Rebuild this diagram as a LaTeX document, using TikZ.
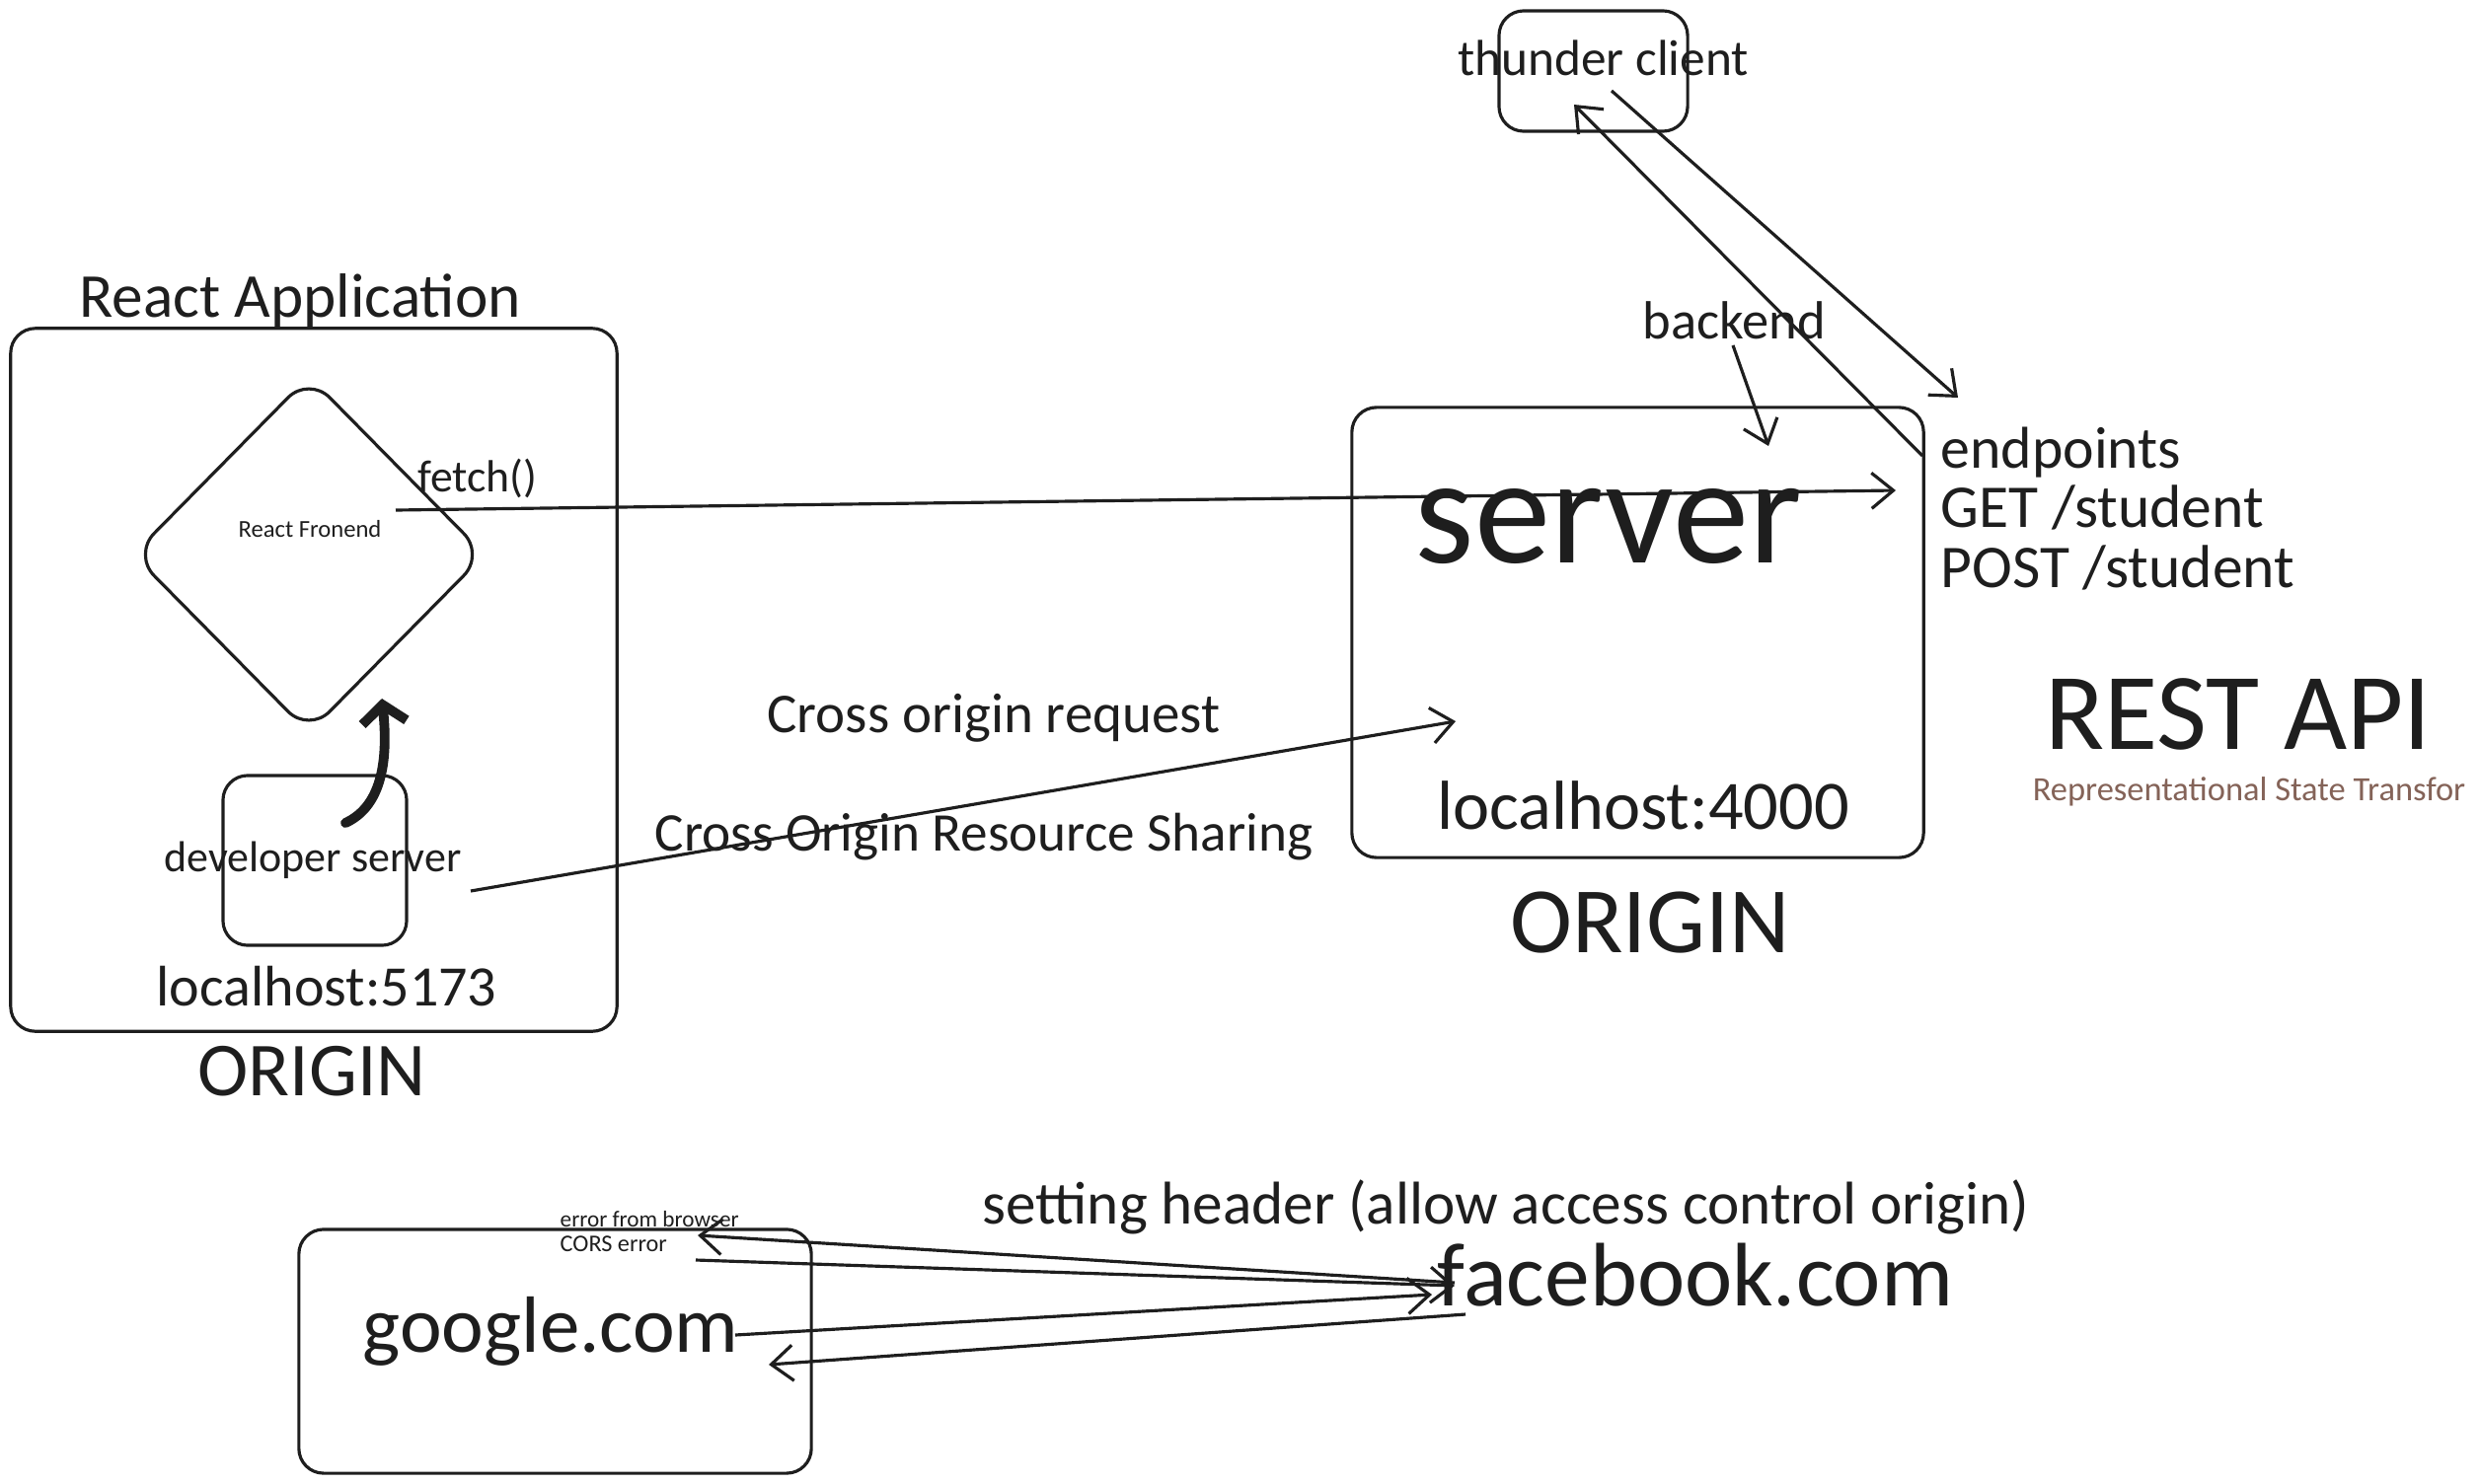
\documentclass[tikz,border=0pt]{standalone}
\usepackage{fontspec}
\setmainfont{Carlito}
\usetikzlibrary{arrows.meta,shapes.geometric}

\definecolor{ink}{HTML}{1E1E1E}
\definecolor{note}{HTML}{846358}

\tikzset{
  box/.style={draw=ink, line width=0.9pt, rounded corners=0.25cm, inner sep=0},
  txt/.style={text=ink, inner sep=0, anchor=base},
  fs/.style={font=\fontsize{#1}{#1}\selectfont},
  arr/.style={draw=ink, line width=0.9pt, ->},
}

\begin{document}
\begin{tikzpicture}[>={Straight Barb[length=0.22cm,width=0.36cm]}, x=0.01cm, y=-0.01cm]

\useasboundingbox (0,0) rectangle (2513,1503);

% react side
\node[box, minimum width=6.14cm, minimum height=7.12cm] (app) at (318,689) {};
\node[box, diamond, rounded corners=0.3cm, minimum width=3.57cm, minimum height=3.62cm] (front) at (313,562) {};
\node[box, minimum width=1.86cm, minimum height=1.72cm] (dev) at (319,872) {};

\node[txt, fs=18] (apptitle) at (304,321) {React Application};
\node[txt, fs=7] (fronttxt) at (314,544) {React Fronend};
\node[txt, fs=13] (fetch) at (484,498) {fetch()};
\node[txt, fs=12.5] (devtxt) at (317,883) {developer server};
\node[txt, fs=16.5] (port1) at (331,1019) {localhost:5173};
\node[txt, fs=22] (orig1) at (316,1110) {ORIGIN};

% server side
\node[box, minimum width=5.79cm, minimum height=4.56cm] (srv) at (1659.5,641) {};
\node[box, minimum width=1.91cm, minimum height=1.22cm] (tc) at (1614.5,72) {};

\node[text=ink, inner sep=0, fs=44] (srvtxt) at (1630,533) {server};
\node[txt, fs=20] (port2) at (1665,840) {localhost:4000};
\node[txt, fs=27] (orig2) at (1672,965) {ORIGIN};
\node[txt, fs=15.5] (backend) at (1757,343) {backend};
\node[txt, fs=14.6] (tctxt) at (1624.5,77) {thunder client};

\node[txt, anchor=base west, fs=17] (ep1) at (1966,474) {endpoints};
\node[txt, anchor=base west, fs=17.5] (ep2) at (1966,534) {GET /student};
\node[txt, anchor=base west, fs=17.5] (ep3) at (1966,595) {POST /student};

\node[txt, fs=31.5] (rest) at (2268,759) {REST API};
\node[txt, fs=9.8, text=note] (restlong) at (2279,811) {Representational State Transfor};

\node[txt, fs=16.2] (cor) at (1007,742) {Cross origin request};
\node[txt, fs=15.7] (cors) at (997,862) {Cross Origin Resource Sharing};

% browser example
\node[box, minimum width=5.19cm, minimum height=2.47cm] (gbox) at (562.5,1369.5) {};
\node[txt, fs=23] (google) at (558,1370) {google.com};
\node[txt, fs=26] (fb) at (1718,1323) {facebook.com};
\node[txt, fs=17.4] (hdr) at (1526,1240) {setting header (allow access control origin)};
\node[txt, anchor=base west, fs=6.6] (err1) at (567,1243) {error from browser};
\node[txt, anchor=base west, fs=6.9] (err2) at (567,1268) {CORS error};

% arrow ends
\coordinate (fetchs) at (401,517);
\coordinate (fetche) at (1921,497);
\coordinate (devs) at (350,834);
\coordinate (frontb) at (387,708);
\coordinate (cors1) at (477,903);
\coordinate (cors2) at (1475,731);
\coordinate (bk1) at (1756,350);
\coordinate (bk2) at (1792,452);
\coordinate (tc1) at (1633,92);
\coordinate (tc2) at (1984,403);
\coordinate (ep0) at (1948,462);
\coordinate (tc3) at (1595,106);
\coordinate (fba) at (1474,1300);
\coordinate (erra) at (707,1252);
\coordinate (errb) at (705,1277);
\coordinate (fbb) at (1474,1303);
\coordinate (ga) at (745,1353);
\coordinate (fbc) at (1451,1312);
\coordinate (fbd) at (1485,1332);
\coordinate (gd) at (779,1383);

\draw[arr] (fetchs) -- (fetche);
\draw[arr] (cors1) -- (cors2);
\draw[arr] (bk1) -- (bk2);
\draw[arr] (tc1) -- (tc2);
\draw[arr] (ep0) -- (tc3);
\draw[draw=ink, line width=2.8pt, line cap=round, -{Straight Barb[length=0.18cm,width=0.45cm]}]
  (devs) .. controls (385,818) and (394,775) .. (frontb);

\draw[arr] (fba) -- (erra);
\draw[arr] (errb) -- (fbb);
\draw[arr] (ga) -- (fbc);
\draw[arr] (fbd) -- (gd);

\end{tikzpicture}
\end{document}
